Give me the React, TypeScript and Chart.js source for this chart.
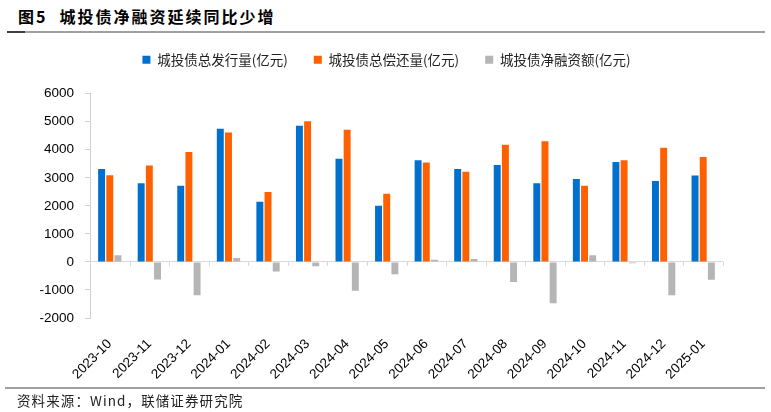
import React, { useEffect, useRef } from "react";
import { Chart, registerables } from "chart.js";

Chart.register(...registerables);

const categories = [
  "2023-10", "2023-11", "2023-12", "2024-01", "2024-02", "2024-03", "2024-04", "2024-05",
  "2024-06", "2024-07", "2024-08", "2024-09", "2024-10", "2024-11", "2024-12", "2025-01",
];
const issuance = [3310, 2810, 2720, 4750, 2150, 4860, 3680, 2000, 3630, 3310, 3460, 2810, 2960, 3560, 2890, 3080];
const repayment = [3090, 3440, 3920, 4620, 2490, 5020, 4710, 2430, 3550, 3220, 4180, 4300, 2720, 3630, 4070, 3740];
const netFinancing = [240, -630, -1190, 140, -340, -150, -1030, -440, 80, 100, -720, -1470, 240, -50, -1190, -640];
const seriesNames = ["城投债总发行量(亿元)", "城投债总偿还量(亿元)", "城投债净融资额(亿元)"];
const yMin = -2000;
const yMax = 6000;
const yStep = 1000;

const CJK = "'Noto Sans CJK SC', 'Noto Sans', sans-serif";
const LATIN = "'Liberation Sans', Arial, sans-serif";

const boundaryTicks = {
  id: "boundaryTicks",
  afterLayout(chart: any) {
    // let the y tick labels extend into the left padding without being clipped
    chart.scales.y.left = 0;
  },
  afterDatasetsDraw(chart: any) {
    const x = chart.scales.x;
    const y = chart.scales.y;
    const ctx = chart.ctx;
    const y0 = y.getPixelForValue(0);
    ctx.save();
    ctx.strokeStyle = "#d9d9d9";
    ctx.lineWidth = 1;
    ctx.beginPath();
    for (let k = 0; k <= categories.length; k++) {
      const px = Math.round(x.getPixelForValue(k - 0.5)) + 0.5;
      ctx.moveTo(px, y0);
      ctx.lineTo(px, y0 + 4);
    }
    ctx.stroke();
    ctx.restore();
  },
};

export default function App() {
  const ref = useRef<HTMLCanvasElement | null>(null);
  useEffect(() => {
    if (!ref.current) return;
    const chart = new Chart(ref.current, {
      type: "bar",
      data: {
        labels: categories,
        datasets: [
          { label: seriesNames[0], data: issuance, backgroundColor: "#0070ce" },
          { label: seriesNames[1], data: repayment, backgroundColor: "#ff6100" },
          { label: seriesNames[2], data: netFinancing, backgroundColor: "#b5b5b5" },
        ],
      },
      options: {
        animation: false,
        responsive: false,
        devicePixelRatio: 1,
        layout: { padding: { left: 50, right: 48, top: 27, bottom: 0 } },
        datasets: { bar: { categoryPercentage: 0.62, barPercentage: 0.85 } },
        plugins: {
          legend: {
            display: true,
            position: "top",
            labels: {
              boxWidth: 8,
              boxHeight: 8,
              padding: 26,
              color: "#222",
              font: { family: CJK, size: 13.5 },
            },
          },
          subtitle: {
            display: true,
            text: "",
            position: "top",
            weight: 500,
            font: { size: 1 },
            padding: { top: 0, bottom: 16 },
          },
          tooltip: { enabled: false },
          title: { display: false },
        },
        scales: {
          x: {
            grid: { display: false },
            border: { display: false },
            ticks: {
              minRotation: 45,
              maxRotation: 45,
              padding: 10,
              color: "#000",
              font: { family: LATIN, size: 13.5 },
            },
            afterFit(scale: any) {
              scale.height = 94;
            },
          },
          y: {
            min: yMin,
            max: yMax,
            border: { display: true, color: "#d0d0d0", width: 1 },
            grid: {
              display: true,
              drawOnChartArea: true,
              tickLength: 5,
              tickColor: "#d0d0d0",
              color: (c: any) => (c.tick && c.tick.value === 0 ? "#d9d9d9" : "rgba(0,0,0,0)"),
            },
            ticks: {
              stepSize: yStep,
              padding: 11,
              color: "#000",
              font: { family: LATIN, size: 13.5 },
              callback: (v: any) => String(v),
            },
            afterFit(scale: any) {
              scale.width = 40;
            },
          },
        },
      },
      plugins: [boundaryTicks],
    });
    return () => chart.destroy();
  }, []);

  return (
    <div style={{ position: "fixed", left: 0, top: 0, width: 771, height: 412, background: "#fff", overflow: "hidden" }}>
      <div
        style={{
          position: "absolute", left: 18, top: 5, fontFamily: CJK, fontWeight: 700, fontSize: 16,
          letterSpacing: "2px", color: "#000", whiteSpace: "nowrap", lineHeight: "22px",
        }}
      >
        <span>图5</span>
        <span style={{ marginLeft: 12 }}>城投债净融资延续同比少增</span>
      </div>
      <div style={{ position: "absolute", left: 7, top: 31, width: 758, height: 2, background: "#a0a0a0" }} />
      <div style={{ position: "absolute", left: 7, top: 31, width: 18, height: 2, background: "#404040" }} />
      <canvas ref={ref} width={771} height={412} style={{ position: "absolute", left: 0, top: 0 }} />
      <div style={{ position: "absolute", left: 5, top: 387, width: 760, height: 2, background: "#a0a0a0" }} />
      <div
        style={{
          position: "absolute", left: 17, top: 391, fontFamily: CJK, fontSize: 13.5, letterSpacing: "1.1px",
          color: "#222", whiteSpace: "nowrap", lineHeight: "18px",
        }}
      >
        资料来源：Wind，联储证券研究院
      </div>
    </div>
  );
}
